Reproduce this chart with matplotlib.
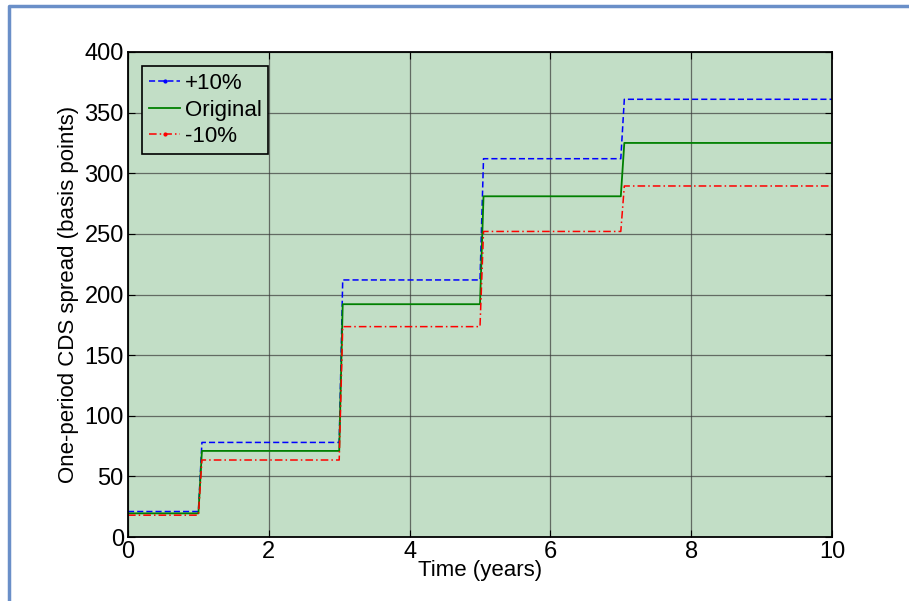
"""One-period CDS spread term structure under +/-10% hazard-rate shocks."""
import matplotlib
matplotlib.use("Agg")
import matplotlib.pyplot as plt
from matplotlib.lines import Line2D
import numpy as np

# step breakpoints (years) and the spread level on each period (bp)
breaks = [0, 1, 3, 5, 7, 10]
plus10 = [21, 78, 212, 312, 361]
original = [19.5, 71, 192, 281, 325]
minus10 = [18, 63.5, 173.5, 252, 289.5]
labels = ["+10%", "Original", "-10%"]
RAMP = 0.05  # transitions in the source are sampled, not vertical

xticks = [0, 2, 4, 6, 8, 10]
yticks = [0, 50, 100, 150, 200, 250, 300, 350, 400]

BG = "#c2dec6"
plt.rcParams["font.family"] = ["Liberation Sans", "DejaVu Sans"]


def step_xy(levels):
    xs, ys = [], []
    for i, v in enumerate(levels):
        x0 = breaks[i] + (RAMP if i else 0)
        xs += [x0, breaks[i + 1]]
        ys += [v, v]
    return xs, ys


styles = [dict(color="blue", lw=1.1, dashes=(4, 2), marker="."),
          dict(color="green", lw=1.3, ls="-", marker=None),
          dict(color="red", lw=1.1, dashes=(5, 2, 1, 2), marker=".")]

fig = plt.figure(figsize=(9.09, 6.01), dpi=100)
ax = fig.add_axes([128 / 909, 1 - 537 / 601, 704 / 909, 485 / 601])
ax.set_facecolor(BG)

handles = []
for levels, st, lab in zip([plus10, original, minus10], styles, labels):
    x, y = step_xy(levels)
    kw = {k: v for k, v in st.items() if k != "marker"}
    ax.plot(x, y, **kw)
    handles.append(Line2D([], [], marker=st["marker"], ms=4, label=lab, **kw))

ax.set_xlim(0, 10)
ax.set_ylim(0, 400)
ax.set_xticks(xticks)
ax.set_yticks(yticks)
ax.grid(True, color="#3a3a3a", lw=0.9, alpha=0.7)
ax.tick_params(direction="in", length=5, labelsize=17, top=True, right=True,
               pad=3)
for s in ax.spines.values():
    s.set_linewidth(1.3)
ax.set_xlabel("Time (years)", fontsize=16, labelpad=-2)
ax.set_ylabel("One-period CDS spread (basis points)", fontsize=16, labelpad=4)

leg = ax.legend(handles=handles, loc="upper left", fontsize=16, frameon=True,
                fancybox=False, handlelength=1.4, handletextpad=0.2,
                borderpad=0.3, labelspacing=0.25, borderaxespad=0.65)
leg.get_frame().set_facecolor(BG)
leg.get_frame().set_edgecolor("black")
leg.get_frame().set_alpha(1)
leg.get_frame().set_linewidth(1.2)

# outer blue frame (left and top edges only are visible in the source)
fig.add_artist(Line2D([9 / 909, 9 / 909, 1.0], [0.0, 1 - 6 / 601, 1 - 6 / 601],
                      transform=fig.transFigure, color="#6a8fc8", lw=2.5))

fig.savefig("out.png", dpi=100)
